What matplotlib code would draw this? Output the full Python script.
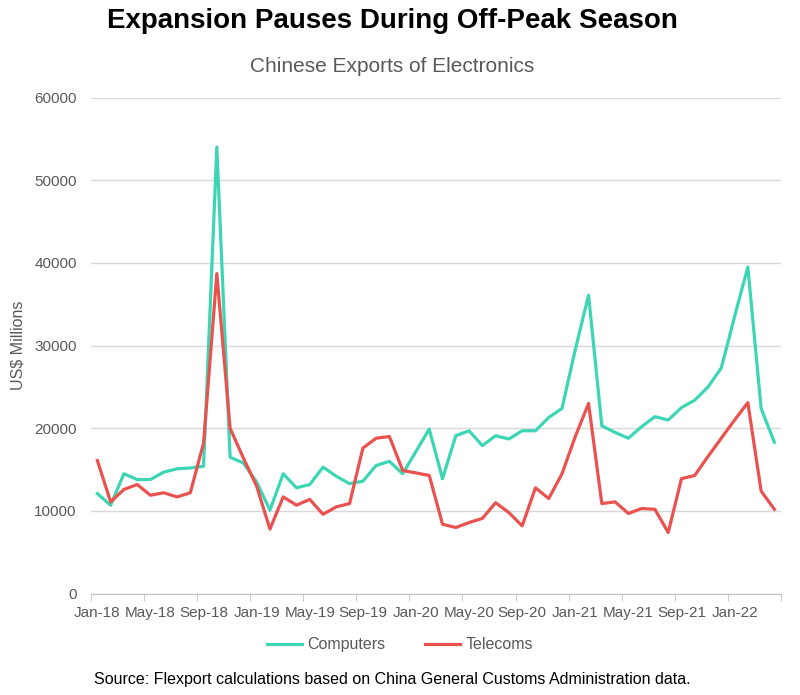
import matplotlib
matplotlib.use("Agg")
import matplotlib.pyplot as plt
import pandas as pd

# Monthly Chinese electronics exports, US$ millions (Jan-18 .. Apr-22)
months = pd.date_range("2018-01-01", periods=52, freq="MS").strftime("%b-%y").tolist()

computers = [12100, 10700, 14500, 13800, 13800, 14700, 15100, 15200, 15400, 54000,
             16500, 15800, 13500, 10100, 14500, 12800, 13200, 15300, 14200, 13300,
             13600, 15500, 16000, 14500, 17200, 19900, 13900, 19100, 19700, 17900,
             19100, 18700, 19700, 19700, 21300, 22400, 29500, 36100, 20300, 19500,
             18800, 20200, 21400, 21000, 22500, 23400, 25000, 27300, 33500, 39500,
             22400, 18300]

telecoms = [16100, 11100, 12600, 13200, 11900, 12200, 11700, 12200, 18200, 38700,
            20000, 16400, 13000, 7800, 11700, 10700, 11400, 9600, 10500, 10900,
            17600, 18800, 19000, 14900, 14600, 14300, 8400, 8000, 8600, 9100,
            11000, 9800, 8200, 12800, 11500, 14500, 19000, 23000, 10900, 11100,
            9700, 10300, 10200, 7400, 13900, 14300, 16600, 18800, 21000, 23100,
            12400, 10200]

green = "#3dd6b5"
red = "#e9524f"
grey_text = "#595959"

plt.rcParams["font.family"] = ["Liberation Sans", "DejaVu Sans"]

fig = plt.figure(figsize=(8, 6.95), dpi=100)
ax = fig.add_axes([0.1134, 0.1458, 0.8629, 0.7139])

x = list(range(len(months)))
ax.plot(x, computers, color=green, linewidth=2.3, label="Computers", solid_joinstyle="round")
ax.plot(x, telecoms, color=red, linewidth=2.3, label="Telecoms", solid_joinstyle="round")

ax.set_xlim(-0.5, len(months) - 0.5)
ax.set_ylim(0, 60000)
ax.set_yticks(range(0, 60001, 10000))
ax.yaxis.grid(True, color="#d9d9d9", linewidth=1)
ax.set_axisbelow(True)

# category labels every 4 months, tick marks between categories
ax.set_xticks(x[::4])
ax.set_xticklabels(months[::4])
ax.set_xticks([i - 0.5 for i in range(0, len(months) + 1, 4)], minor=True)
ax.tick_params(axis="x", which="major", length=0, pad=9, labelsize=11, labelcolor=grey_text)
ax.tick_params(axis="x", which="minor", length=5, color="#bfbfbf")
ax.tick_params(axis="y", length=0, pad=10, labelsize=11, labelcolor=grey_text)

for side in ["left", "right", "top"]:
    ax.spines[side].set_visible(False)
ax.spines["bottom"].set_color("#bfbfbf")

ax.set_ylabel("US$ Millions", fontsize=11.5, color=grey_text, labelpad=6)

fig.text(0.49, 0.97, "Expansion Pauses During Off-Peak Season", ha="center", va="center",
         fontsize=20, fontweight="bold")
fig.text(0.49, 0.905, "Chinese Exports of Electronics", ha="center", va="center",
         fontsize=15, color=grey_text)
fig.legend(loc="center", bbox_to_anchor=(0.5, 0.072), ncol=2, frameon=False,
           fontsize=11.5, handlelength=2.2, handletextpad=0.3, columnspacing=2.5,
           labelcolor=grey_text)
fig.text(0.49, 0.022, "Source: Flexport calculations based on China General Customs Administration data.",
         ha="center", va="center", fontsize=11.5)

fig.savefig("out.png", dpi=100, facecolor="white")
